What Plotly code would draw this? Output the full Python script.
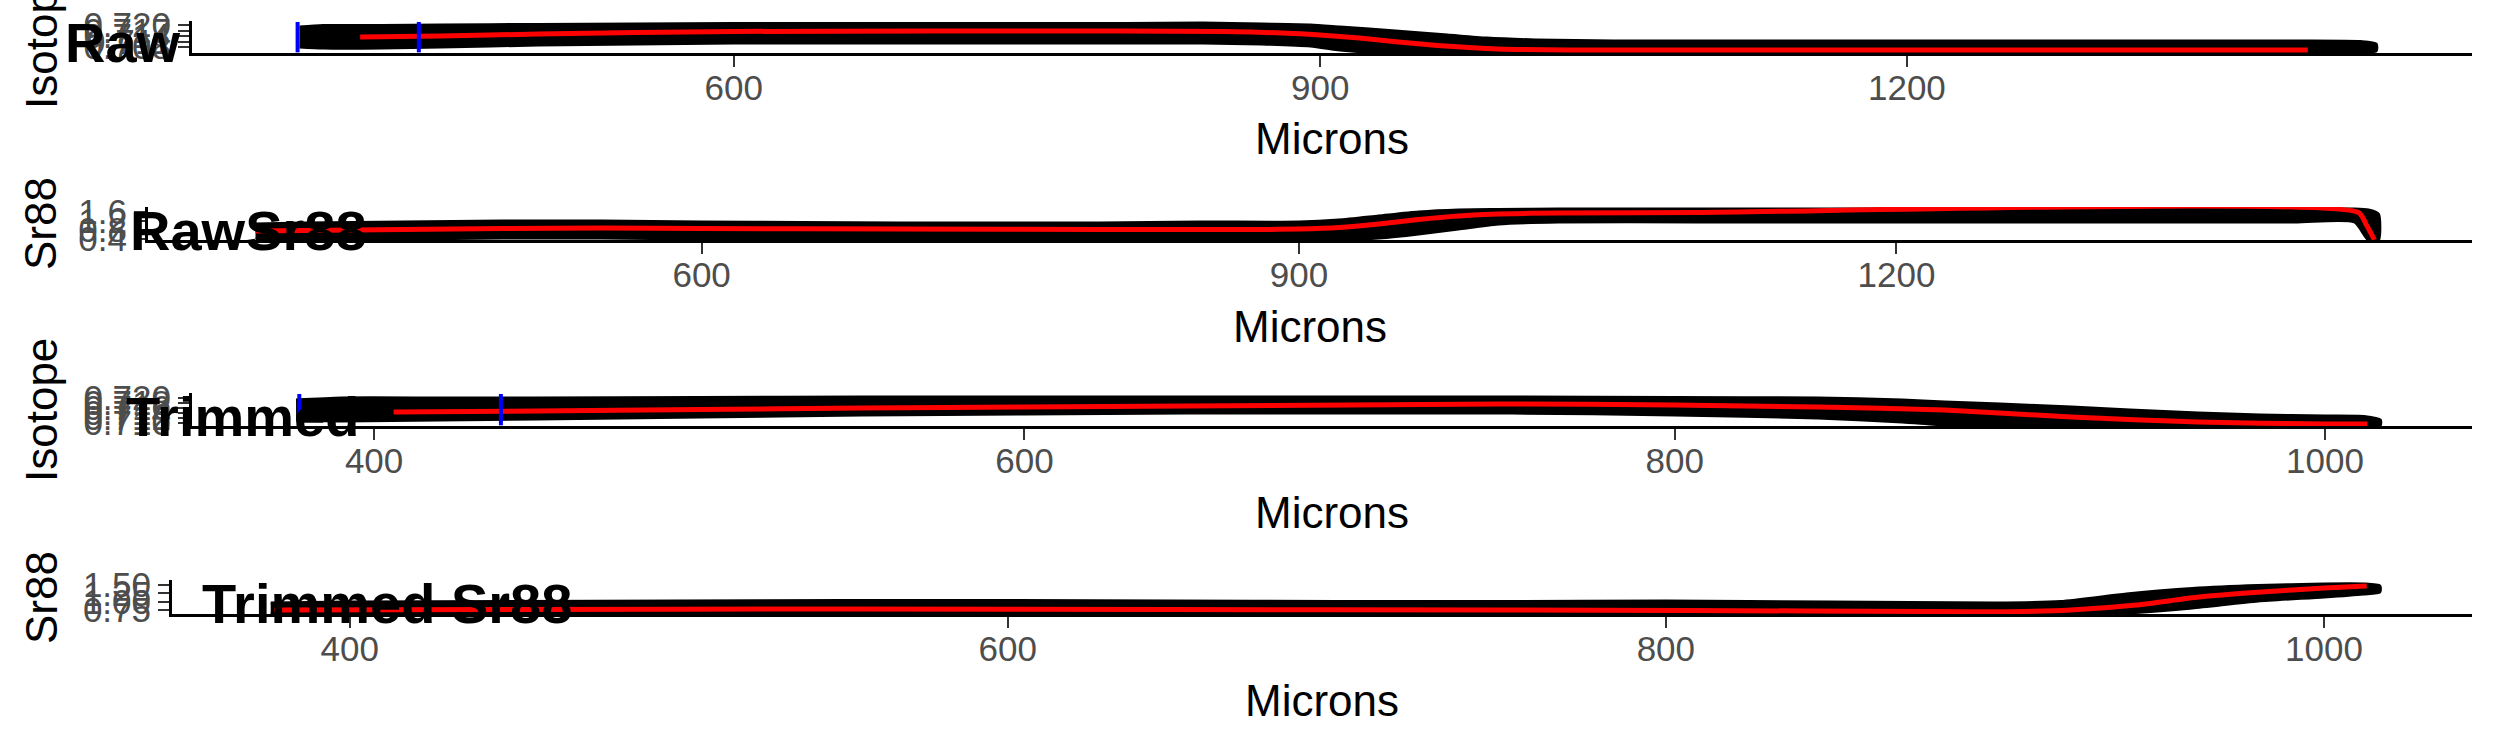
import plotly.graph_objects as go

W, H = 2495, 749
FONT = "Liberation Sans"

# ---------------- data ----------------
# Panel 1: Raw isotope
raw_x = [378, 390, 420, 450, 500, 550, 600, 650, 700, 750, 800, 840, 870, 895, 910, 925, 945, 965, 985, 1010, 1050, 1100, 1200, 1300, 1400, 1432, 1440]
raw_iso_hi = [0.7189, 0.7197, 0.7197, 0.7200, 0.7203, 0.7205, 0.7208, 0.7208, 0.7208, 0.7208, 0.7208, 0.7211, 0.7205, 0.7200, 0.7189, 0.7178, 0.7162, 0.7146, 0.7129, 0.7119, 0.7113, 0.7113, 0.7113, 0.7113, 0.7113, 0.7110, 0.7097]
raw_iso_lo = [0.7081, 0.7075, 0.7075, 0.7081, 0.7091, 0.7097, 0.7102, 0.7102, 0.7102, 0.7102, 0.7102, 0.7102, 0.7097, 0.7086, 0.7064, 0.7053, 0.7053, 0.7053, 0.7053, 0.7053, 0.7053, 0.7053, 0.7053, 0.7053, 0.7053, 0.7053, 0.7059]
raw_iso_fit_x = [409, 450, 500, 550, 600, 700, 800, 850, 880, 900, 920, 940, 960, 980, 1000, 1050, 1200, 1405]
raw_iso_fit = [0.7135, 0.7140, 0.7151, 0.7159, 0.7165, 0.7167, 0.7167, 0.7165, 0.7157, 0.7146, 0.7129, 0.7108, 0.7089, 0.7075, 0.7067, 0.7064, 0.7064, 0.7064]

# Panel 2: Raw Sr88
rawsr_x = [376, 400, 450, 500, 550, 600, 650, 700, 750, 800, 850, 900, 920, 940, 960, 980, 1000, 1030, 1100, 1200, 1300, 1400, 1430, 1437, 1442]
rawsr_hi = [1.057, 1.102, 1.147, 1.192, 1.192, 1.147, 1.125, 1.102, 1.102, 1.102, 1.147, 1.147, 1.238, 1.419, 1.600, 1.691, 1.713, 1.736, 1.736, 1.736, 1.736, 1.736, 1.736, 1.691, 1.509]
rawsr_lo = [0.377, 0.377, 0.377, 0.423, 0.423, 0.377, 0.377, 0.355, 0.355, 0.355, 0.332, 0.332, 0.332, 0.423, 0.604, 0.830, 1.057, 1.147, 1.147, 1.147, 1.147, 1.147, 1.147, 0.332, 0.332]
rawsr_fit_x = [376, 400, 450, 500, 550, 600, 700, 800, 880, 900, 920, 940, 960, 980, 1000, 1030, 1100, 1432, 1436, 1440]
rawsr_fit = [0.740, 0.762, 0.807, 0.853, 0.875, 0.853, 0.830, 0.807, 0.807, 0.830, 0.898, 1.057, 1.260, 1.419, 1.509, 1.555, 1.577, 1.577, 1.011, 0.340]

# Panel 3: Trimmed isotope
trim_x = [376, 390, 420, 450, 500, 550, 600, 650, 700, 750, 800, 844, 870, 883, 900, 922, 940, 961, 980, 1000, 1012, 1017]
trim_iso_hi = [0.7192, 0.7200, 0.7200, 0.7200, 0.7202, 0.7204, 0.7204, 0.7204, 0.7204, 0.7204, 0.7202, 0.7200, 0.7192, 0.7184, 0.7176, 0.7164, 0.7152, 0.7140, 0.7132, 0.7128, 0.7126, 0.7112]
trim_iso_lo = [0.7112, 0.7108, 0.7112, 0.7116, 0.7124, 0.7132, 0.7136, 0.7140, 0.7140, 0.7140, 0.7132, 0.7120, 0.7104, 0.7092, 0.7088, 0.7088, 0.7088, 0.7088, 0.7088, 0.7088, 0.7088, 0.7092]
trim_iso_fit_x = [406, 450, 500, 550, 600, 700, 746, 800, 844, 883, 922, 961, 1000, 1013]
trim_iso_fit = [0.7144, 0.7148, 0.7154, 0.7160, 0.7164, 0.7172, 0.7176, 0.7172, 0.7164, 0.7152, 0.7124, 0.7104, 0.7096, 0.7096]

# Panel 4: Trimmed Sr88
trimsr_x = [376, 400, 450, 500, 550, 600, 650, 700, 750, 800, 850, 900, 920, 940, 960, 980, 1000, 1012, 1017]
trimsr_hi = [0.960, 0.990, 1.005, 1.020, 1.035, 1.035, 1.020, 1.005, 1.005, 1.020, 0.990, 0.960, 1.005, 1.230, 1.395, 1.485, 1.530, 1.530, 1.470]
trimsr_lo = [0.630, 0.630, 0.630, 0.630, 0.630, 0.630, 0.630, 0.630, 0.645, 0.645, 0.630, 0.630, 0.630, 0.660, 0.810, 1.020, 1.140, 1.230, 1.290]
trimsr_fit_x = [377, 450, 550, 650, 750, 807, 880, 904, 923, 943, 962, 981, 1000, 1013]
trimsr_fit = [0.750, 0.765, 0.780, 0.765, 0.750, 0.735, 0.705, 0.699, 0.750, 0.900, 1.140, 1.290, 1.410, 1.470]

# Window limits (blue lines)
window_x = [377, 439]

# Tick values / labels
ticks_x_raw = [600, 900, 1200]
ticks_x_trim = [400, 600, 800, 1000]
ticks_y_raw_iso = [0.708, 0.711, 0.714, 0.717, 0.720]
ticks_y_raw_iso_txt = ["0.708", "0.711", "0.714", "0.717", "0.720"]
ticks_y_raw_sr = [0.4, 0.8, 1.2, 1.6]
ticks_y_raw_sr_txt = ["0.4", "0.8", "1.2", "1.6"]
ticks_y_trim_iso = [0.710, 0.712, 0.714, 0.716, 0.718, 0.720]
ticks_y_trim_iso_txt = ["0.710", "0.712", "0.714", "0.716", "0.718", "0.720"]
ticks_y_trim_sr = [0.75, 1.00, 1.25, 1.50]
ticks_y_trim_sr_txt = ["0.75", "1.00", "1.25", "1.50"]

titles = ["Raw", "RawSr88", "Trimmed", "Trimmed Sr88"]
y_titles = ["Isotope", "Sr88", "Isotope", "Sr88"]
x_title = "Microns"

# ---------------- layout geometry (pixels) ----------------
panels = [
    dict(x=raw_x, hi=raw_iso_hi, lo=raw_iso_lo, fx=raw_iso_fit_x, fy=raw_iso_fit, vl=True,
         xd=(192, 2472), yd=(21, 53), xr=(323, 1489), yr=(0.70480, 0.72217),
         xt=ticks_x_raw, yt=ticks_y_raw_iso, ytt=ticks_y_raw_iso_txt,
         title_pos=(63, 42.5), ytitle_pos=(41, 37), xtitle_y=138),
    dict(x=rawsr_x, hi=rawsr_hi, lo=rawsr_lo, fx=rawsr_fit_x, fy=rawsr_fit, vl=False,
         xd=(148, 2472), yd=(207, 240), xr=(322, 1489), yr=(0.3319, 1.8264),
         xt=ticks_x_raw, yt=ticks_y_raw_sr, ytt=ticks_y_raw_sr_txt,
         title_pos=(128, 230), ytitle_pos=(40, 224), xtitle_y=326),
    dict(x=trim_x, hi=trim_iso_hi, lo=trim_iso_lo, fx=trim_iso_fit_x, fy=trim_iso_fit, vl=True,
         xd=(192, 2472), yd=(393, 426), xr=(344, 1045.2), yr=(0.7088, 0.7220),
         xt=ticks_x_trim, yt=ticks_y_trim_iso, ytt=ticks_y_trim_iso_txt,
         title_pos=(124, 416.5), ytitle_pos=(41, 410), xtitle_y=512),
    dict(x=trimsr_x, hi=trimsr_hi, lo=trimsr_lo, fx=trimsr_fit_x, fy=trimsr_fit, vl=False,
         xd=(172, 2472), yd=(580, 614), xr=(346, 1045), yr=(0.63, 1.65),
         xt=ticks_x_trim, yt=ticks_y_trim_sr, ytt=ticks_y_trim_sr_txt,
         title_pos=(200, 603.5), ytitle_pos=(41, 598), xtitle_y=700),
]


def fx_(p):
    return p / W


def fy_(p):
    return 1 - p / H


fig = go.Figure()
layout = dict(width=W, height=H, margin=dict(l=0, r=0, t=0, b=0, pad=0, autoexpand=False),
              paper_bgcolor="white", plot_bgcolor="white", showlegend=False,
              font=dict(family=FONT))
annotations = []
shapes = []

for i, p in enumerate(panels):
    n = i + 1
    xa = "x" if n == 1 else f"x{n}"
    ya = "y" if n == 1 else f"y{n}"
    xkey = "xaxis" if n == 1 else f"xaxis{n}"
    ykey = "yaxis" if n == 1 else f"yaxis{n}"

    # band of raw points
    fig.add_trace(go.Scatter(
        x=p["x"] + p["x"][::-1], y=p["hi"] + p["lo"][::-1],
        fill="toself", fillcolor="black", mode="lines",
        line=dict(color="black", width=3, shape="spline", smoothing=0.6),
        xaxis=xa, yaxis=ya, hoverinfo="skip"))
    # smoothed red line
    fig.add_trace(go.Scatter(
        x=p["fx"], y=p["fy"], mode="lines",
        line=dict(color="#FF0000", width=5, shape="spline", smoothing=0.6),
        xaxis=xa, yaxis=ya, hoverinfo="skip"))

    if p["vl"]:
        for wx in window_x:
            shapes.append(dict(type="line", xref=xa, yref=f"{ya} domain",
                               x0=wx, x1=wx, y0=0.02, y1=0.97,
                               line=dict(color="#0000FF", width=4)))

    common = dict(showgrid=False, zeroline=False, showline=True, automargin=False,
                  linecolor="black", linewidth=3, ticks="outside",
                  ticklen=11, tickwidth=2, tickcolor="#333333",
                  tickfont=dict(family=FONT, size=35, color="#4D4D4D"))
    layout[xkey] = dict(common, domain=[fx_(p["xd"][0]), fx_(p["xd"][1])],
                        range=list(p["xr"]), anchor=ya, ticklabelstandoff=-9,
                        tickvals=p["xt"], ticktext=[str(v) for v in p["xt"]])
    layout[ykey] = dict(common, domain=[fy_(p["yd"][1]), fy_(p["yd"][0])],
                        range=list(p["yr"]), anchor=xa,
                        tickvals=p["yt"], ticktext=p["ytt"])

    # panel title (bold label)
    annotations.append(dict(text=f"<b>{titles[i]}</b>", xref="paper", yref="paper",
                            x=fx_(p["title_pos"][0]), y=fy_(p["title_pos"][1]),
                            xanchor="left", yanchor="middle", showarrow=False,
                            font=dict(family=FONT, size=56, color="black")))
    # y axis title
    annotations.append(dict(text=y_titles[i], xref="paper", yref="paper",
                            x=fx_(p["ytitle_pos"][0]), y=fy_(p["ytitle_pos"][1]),
                            xanchor="center", yanchor="middle", textangle=-90,
                            showarrow=False,
                            font=dict(family=FONT, size=44, color="black")))
    # x axis title
    annotations.append(dict(text=x_title, xref="paper", yref="paper",
                            x=fx_((p["xd"][0] + p["xd"][1]) / 2), y=fy_(p["xtitle_y"]),
                            xanchor="center", yanchor="middle", showarrow=False,
                            font=dict(family=FONT, size=44, color="black")))

layout["annotations"] = annotations
layout["shapes"] = shapes
fig.update_layout(**layout)

fig.write_html("out.html", config={"displayModeBar": False},
               post_script="document.body.style.margin='0';document.body.style.overflow='hidden';")
